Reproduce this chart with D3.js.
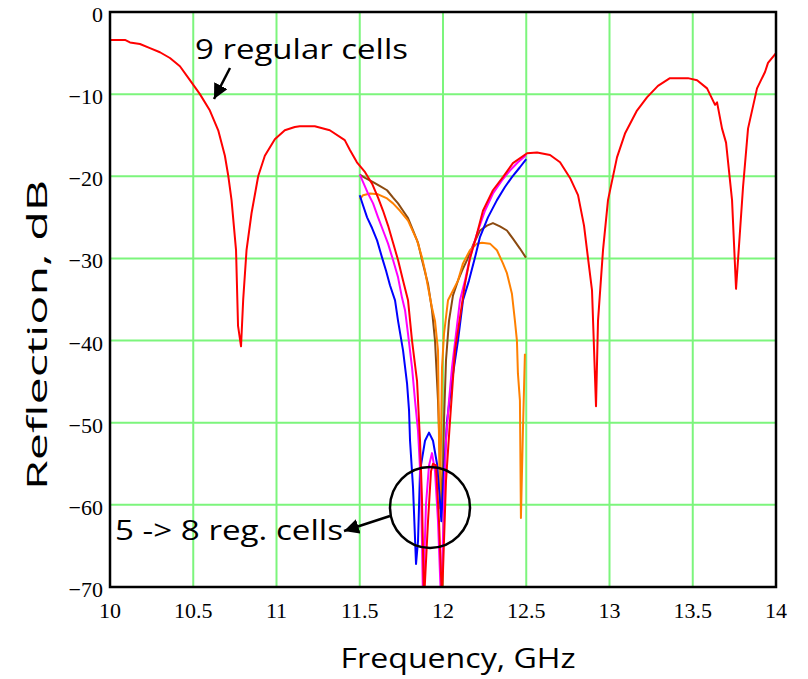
<!DOCTYPE html>
<html><head><meta charset="utf-8">
<script src="https://cdnjs.cloudflare.com/ajax/libs/d3/7.8.5/d3.min.js"></script>
<style>html,body{margin:0;padding:0;background:#fff;}svg{display:block;}</style>
</head><body>
<svg id="c" width="808" height="679"></svg>
<script>
// ---- data ----
const xTicks = [10, 10.5, 11, 11.5, 12, 12.5, 13, 13.5, 14];
const yTicks = [0, -10, -20, -30, -40, -50, -60, -70];
const seriesNames = ["9 regular cells", "5 reg. cells", "6 reg. cells", "7 reg. cells", "8 reg. cells"];
const seriesColors = ["#ff0000", "#0000ff", "#ff00ff", "#8b4a10", "#ff8000"];

const redF = [10.00,10.09,10.12,10.18,10.24,10.30,10.36,10.42,10.48,10.54,10.60,10.65,10.69,10.71,10.73,10.757,10.769,10.787,10.80,10.82,10.85,10.89,10.93,10.99,11.05,11.11,11.14,11.23,11.32,11.41,11.441,11.483,11.532,11.574,11.610,11.640,11.670,11.700,11.730,11.760,11.790,11.814,11.844,11.862,11.874,11.886,11.910,11.928,11.940,11.958,11.976,11.994,12.018,12.042,12.072,12.102,12.132,12.162,12.204,12.240,12.300,12.360,12.420,12.505,12.565,12.643,12.703,12.763,12.811,12.847,12.865,12.895,12.919,12.931,12.961,12.991,13.045,13.093,13.165,13.225,13.291,13.363,13.471,13.526,13.586,13.634,13.646,13.676,13.700,13.736,13.760,13.802,13.832,13.886,13.934,13.952,14.0];
const redDB = [-3.4,-3.4,-3.7,-3.9,-4.4,-4.9,-5.6,-6.6,-8.3,-10.0,-12.0,-14.4,-17.5,-19.9,-22.9,-29.0,-38.2,-40.7,-35.0,-29.0,-24.5,-20.0,-17.5,-15.5,-14.4,-14.0,-13.9,-13.9,-14.4,-15.6,-16.8,-18.3,-19.5,-20.9,-22.6,-24.2,-26.0,-28.1,-30.2,-32.7,-35.1,-40.0,-44.9,-52.2,-59.5,-71.7,-62.0,-55.9,-55.0,-55.2,-62.0,-71.7,-57.1,-49.8,-41.2,-37.2,-33.1,-30.0,-27.0,-24.2,-21.7,-20.1,-18.4,-17.2,-17.1,-17.4,-18.3,-20.2,-22.3,-26.0,-29.0,-33.9,-48.0,-37.6,-29.0,-22.9,-17.7,-14.8,-12.0,-10.4,-9.0,-8.05,-8.05,-8.3,-9.3,-11.3,-11.0,-14.2,-15.9,-22.9,-33.7,-21.3,-14.2,-9.3,-7.3,-6.2,-5.0];

const blueF = [11.50,11.514,11.544,11.574,11.604,11.634,11.658,11.682,11.712,11.730,11.760,11.784,11.796,11.802,11.820,11.838,11.850,11.862,11.892,11.916,11.940,11.964,11.982,11.990,12.006,12.024,12.054,12.090,12.120,12.156,12.192,12.222,12.270,12.324,12.372,12.414,12.462,12.500];
const blueDB = [-22.3,-23.2,-25.0,-26.3,-27.8,-29.9,-31.5,-33.3,-35.1,-37.6,-41.2,-45.2,-48.5,-52.2,-57.9,-67.2,-64.4,-55.9,-52.2,-51.2,-52.2,-55.0,-59.5,-62.0,-55.9,-49.8,-44.9,-40.0,-35.1,-32.7,-29.9,-27.4,-25.0,-22.9,-21.3,-20.1,-18.9,-17.9];

const magF = [11.50,11.520,11.550,11.580,11.610,11.640,11.670,11.700,11.730,11.754,11.772,11.790,11.814,11.832,11.850,11.868,11.880,11.898,11.916,11.934,11.952,11.970,11.988,12.018,12.036,12.054,12.078,12.102,12.132,12.162,12.204,12.252,12.300,12.354,12.402,12.450,12.500];
const magDB = [-19.8,-20.7,-22.1,-23.3,-25.0,-26.6,-28.2,-30.2,-32.3,-34.8,-36.3,-39.2,-43.3,-47.3,-51.0,-57.9,-71.7,-59.9,-55.2,-53.7,-55.9,-62.0,-71.7,-52.2,-47.3,-43.3,-39.2,-35.1,-32.7,-29.9,-27.0,-24.2,-22.1,-20.5,-19.3,-18.3,-17.4];

const brownF = [11.50,11.532,11.580,11.622,11.664,11.700,11.730,11.760,11.790,11.820,11.850,11.874,11.910,11.934,11.952,11.970,11.982,11.994,12.000,12.006,12.018,12.036,12.060,12.090,12.114,12.144,12.180,12.222,12.264,12.300,12.342,12.384,12.420,12.462,12.498];
const brownDB = [-19.8,-20.2,-20.7,-21.2,-21.7,-22.6,-23.3,-24.2,-25.1,-26.6,-28.1,-30.2,-33.1,-36.3,-40.0,-47.3,-54.6,-60.5,-55.9,-49.8,-42.4,-37.6,-34.5,-32.7,-31.5,-30.2,-28.4,-26.6,-26.0,-25.7,-26.1,-26.6,-27.6,-28.8,-29.9];

const orangeF = [11.50,11.520,11.562,11.610,11.664,11.700,11.742,11.790,11.844,11.874,11.892,11.910,11.934,11.952,11.970,11.976,11.982,11.988,11.994,12.006,12.030,12.060,12.090,12.120,12.162,12.204,12.234,12.282,12.324,12.360,12.384,12.414,12.432,12.444,12.450,12.462,12.468,12.480,12.492];
const orangeDB = [-22.8,-22.3,-22.1,-22.2,-22.7,-23.3,-24.2,-25.4,-27.8,-29.9,-31.5,-33.5,-36.0,-37.6,-41.2,-52.2,-60.4,-52.2,-43.3,-39.2,-35.1,-33.9,-32.7,-30.6,-29.0,-28.2,-28.1,-28.2,-29.0,-30.6,-31.8,-34.3,-37.6,-40.0,-44.0,-47.3,-61.6,-51.0,-41.6];

// ---- layout ----
const svg = d3.select("#c");
const L = 110, R = 776, T = 12, B = 587;
const x = d3.scaleLinear().domain([10, 14]).range([L, R]);
const y = d3.scaleLinear().domain([-70, 0]).range([B, T]);

svg.append("defs").append("clipPath").attr("id", "clip")
  .append("rect").attr("x", L).attr("y", T).attr("width", R - L).attr("height", B - T);

// grid
const grid = svg.append("g");
grid.selectAll("line.v").data(xTicks.slice(1, -1)).enter().append("line")
  .attr("x1", d => x(d)).attr("x2", d => x(d)).attr("y1", T).attr("y2", B)
  .attr("stroke", "#7cf57c").attr("stroke-width", 2);
grid.selectAll("line.h").data(yTicks.slice(1, -1)).enter().append("line")
  .attr("x1", L).attr("x2", R).attr("y1", d => y(d)).attr("y2", d => y(d))
  .attr("stroke", "#7cf57c").attr("stroke-width", 2);

// curves
const seriesF = [redF, blueF, magF, brownF, orangeF];
const seriesDB = [redDB, blueDB, magDB, brownDB, orangeDB];
const line = d3.line().x(d => x(d[0])).y(d => y(d[1]));
const lines = svg.append("g").attr("clip-path", "url(#clip)");
const drawOrder = [3, 4, 1, 2, 0];
drawOrder.forEach(i => {
  const pts = seriesF[i].map((f, k) => [f, seriesDB[i][k]]);
  lines.append("path").datum(pts).attr("d", line)
    .attr("fill", "none").attr("stroke", seriesColors[i])
    .attr("stroke-width", 2).attr("stroke-linejoin", "round");
});

// frame
svg.append("rect").attr("x", L).attr("y", T).attr("width", R - L).attr("height", B - T)
  .attr("fill", "none").attr("stroke", "#000").attr("stroke-width", 2.5);

// tick labels
const fmt = d => (d < 0 ? "\u2212" + Math.abs(d) : String(d));
svg.append("g").selectAll("text").data(xTicks).enter().append("text")
  .attr("x", d => x(d)).attr("y", B + 31)
  .attr("text-anchor", "middle").attr("font-family", "Liberation Serif")
  .attr("font-size", 22).text(d => String(d));
svg.append("g").selectAll("text").data(yTicks).enter().append("text")
  .attr("x", L - 7).attr("y", d => y(d) + 10)
  .attr("text-anchor", "end").attr("font-family", "Liberation Serif")
  .attr("font-size", 22).text(fmt);

// axis titles
svg.append("text").attr("x", 458).attr("y", 668).attr("text-anchor", "middle")
  .attr("font-family", "Open Sans").attr("font-size", 28)
  .attr("textLength", 235).attr("lengthAdjust", "spacingAndGlyphs")
  .text("Frequency, GHz");
svg.append("text").attr("transform", "translate(47,335) rotate(-90)")
  .attr("text-anchor", "middle")
  .attr("font-family", "Open Sans").attr("font-size", 28)
  .attr("textLength", 310).attr("lengthAdjust", "spacingAndGlyphs")
  .text("Reflection, dB");

// annotations
svg.append("text").attr("x", 195).attr("y", 59)
  .attr("font-family", "Open Sans").attr("font-size", 28)
  .attr("textLength", 213).attr("lengthAdjust", "spacingAndGlyphs")
  .text("9 regular cells");
svg.append("text").attr("x", 115).attr("y", 540)
  .attr("font-family", "Open Sans").attr("font-size", 28)
  .attr("textLength", 228).attr("lengthAdjust", "spacingAndGlyphs")
  .text("5 -> 8 reg. cells");

const defs = svg.select("defs");
defs.append("marker").attr("id", "ah").attr("viewBox", "0 0 10 10")
  .attr("refX", 10).attr("refY", 5).attr("markerWidth", 6).attr("markerHeight", 6)
  .attr("markerUnits", "strokeWidth").attr("orient", "auto")
  .append("path").attr("d", "M0,0 L10,5 L0,10 z").attr("fill", "#000");

svg.append("line").attr("x1", 230).attr("y1", 68).attr("x2", 214).attr("y2", 99)
  .attr("stroke", "#000").attr("stroke-width", 2.5).attr("marker-end", "url(#ah)");
svg.append("line").attr("x1", 390).attr("y1", 516).attr("x2", 344).attr("y2", 531)
  .attr("stroke", "#000").attr("stroke-width", 2.5).attr("marker-end", "url(#ah)");
svg.append("ellipse").attr("cx", 430).attr("cy", 507.5).attr("rx", 40).attr("ry", 40.5)
  .attr("fill", "none").attr("stroke", "#000").attr("stroke-width", 2.5);
</script>
</body></html>
